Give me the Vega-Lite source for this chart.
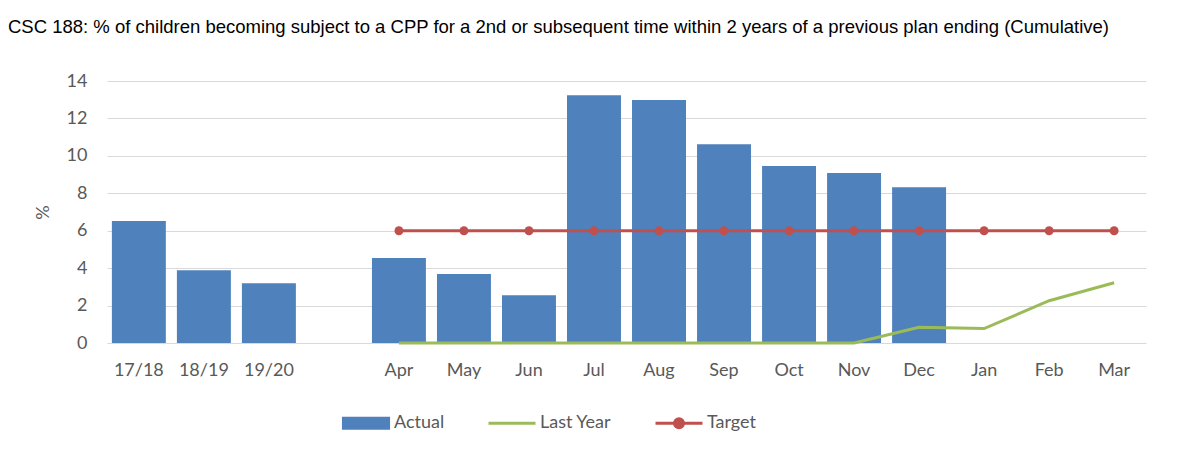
{
  "$schema": "https://vega.github.io/schema/vega-lite/v6.json",
  "autosize": {"type": "none"},
  "width": 1039,
  "height": 262,
  "padding": {"left": 107, "top": 81, "right": 43, "bottom": 115},
  "background": "white",
  "title": {
    "text": "CSC 188: % of children becoming subject to a CPP for a 2nd or subsequent time within 2 years of a previous plan ending (Cumulative)",
    "anchor": "start",
    "frame": "group",
    "dx": -99,
    "offset": 21,
    "baseline": "alphabetic",
    "font": "Liberation Sans",
    "fontSize": 18.5,
    "fontWeight": "normal",
    "color": "black"
  },
  "datasets": {
    "actual": [
      {"cat": "17/18", "series": "Actual", "value": 6.52},
      {"cat": "18/19", "series": "Actual", "value": 3.89},
      {"cat": "19/20", "series": "Actual", "value": 3.19},
      {"cat": "Apr", "series": "Actual", "value": 4.54},
      {"cat": "May", "series": "Actual", "value": 3.69},
      {"cat": "Jun", "series": "Actual", "value": 2.55},
      {"cat": "Jul", "series": "Actual", "value": 13.24},
      {"cat": "Aug", "series": "Actual", "value": 12.99},
      {"cat": "Sep", "series": "Actual", "value": 10.62},
      {"cat": "Oct", "series": "Actual", "value": 9.46},
      {"cat": "Nov", "series": "Actual", "value": 9.09},
      {"cat": "Dec", "series": "Actual", "value": 8.32}
    ],
    "lastyear": [
      {"cat": "Apr", "series": "Last Year", "value": 0},
      {"cat": "May", "series": "Last Year", "value": 0},
      {"cat": "Jun", "series": "Last Year", "value": 0},
      {"cat": "Jul", "series": "Last Year", "value": 0},
      {"cat": "Aug", "series": "Last Year", "value": 0},
      {"cat": "Sep", "series": "Last Year", "value": 0},
      {"cat": "Oct", "series": "Last Year", "value": 0},
      {"cat": "Nov", "series": "Last Year", "value": 0},
      {"cat": "Dec", "series": "Last Year", "value": 0.84},
      {"cat": "Jan", "series": "Last Year", "value": 0.77},
      {"cat": "Feb", "series": "Last Year", "value": 2.26},
      {"cat": "Mar", "series": "Last Year", "value": 3.22}
    ],
    "target": [
      {"cat": "Apr", "series": "Target", "value": 6},
      {"cat": "May", "series": "Target", "value": 6},
      {"cat": "Jun", "series": "Target", "value": 6},
      {"cat": "Jul", "series": "Target", "value": 6},
      {"cat": "Aug", "series": "Target", "value": 6},
      {"cat": "Sep", "series": "Target", "value": 6},
      {"cat": "Oct", "series": "Target", "value": 6},
      {"cat": "Nov", "series": "Target", "value": 6},
      {"cat": "Dec", "series": "Target", "value": 6},
      {"cat": "Jan", "series": "Target", "value": 6},
      {"cat": "Feb", "series": "Target", "value": 6},
      {"cat": "Mar", "series": "Target", "value": 6}
    ]
  },
  "encoding": {
    "x": {
      "field": "cat",
      "type": "nominal",
      "sort": null,
      "scale": {
        "domain": ["17/18", "18/19", "19/20", "gap", "Apr", "May", "Jun", "Jul", "Aug", "Sep", "Oct", "Nov", "Dec", "Jan", "Feb", "Mar"],
        "paddingInner": 0.17,
        "paddingOuter": 0.075
      },
      "axis": {
        "title": null,
        "labelExpr": "datum.value === 'gap' ? '' : datum.value",
        "labelAngle": 0,
        "domain": false,
        "ticks": false,
        "grid": false,
        "labelPadding": 18,
        "labelFont": "Lato",
        "labelFontSize": 18,
        "labelColor": "#595959"
      }
    },
    "y": {
      "field": "value",
      "type": "quantitative",
      "scale": {"domain": [0, 14], "nice": false},
      "axis": {
        "title": "%",
        "values": [0, 2, 4, 6, 8, 10, 12, 14],
        "domain": false,
        "ticks": false,
        "grid": true,
        "gridColor": "#D9D9D9",
        "gridWidth": 1,
        "labelPadding": 20,
        "labelFont": "Lato",
        "labelFontSize": 18,
        "labelColor": "#595959",
        "titleFont": "Lato",
        "titleFontSize": 18,
        "titleFontWeight": "normal",
        "titleColor": "#595959",
        "titlePadding": 14
      }
    }
  },
  "layer": [
    {
      "data": {"name": "actual"},
      "mark": {"type": "bar"},
      "encoding": {
        "color": {
          "field": "series",
          "type": "nominal",
          "scale": {"domain": ["Actual", "Last Year", "Target"], "range": ["#4F81BD", "#9BBB59", "#C0504D"]},
          "legend": {
            "title": null,
            "orient": "none",
            "direction": "horizontal",
            "legendX": 234,
            "legendY": 317,
            "padding": 0,
            "symbolSize": 2209,
            "labelOffset": 3,
            "columnPadding": 37,
            "labelFont": "Lato",
            "labelFontSize": 18,
            "labelColor": "#595959",
            "encode": {
              "symbols": {
                "update": {
                  "shape": {"signal": "datum.value === 'Actual' ? 'M-0.96,-0.4M-0.96,0.4M-0.96,-0.215H0.96V0.215H-0.96Z' : datum.value === 'Last Year' ? 'M-1,-0.4M-1,0.4M-1,0H1' : 'M-1,-0.4M-1,0.4M-1,0H1M0.19,0A0.19,0.19 0 1,1 -0.19,0A0.19,0.19 0 1,1 0.19,0Z'"},
                  "fill": {"signal": "datum.value === 'Last Year' ? 'transparent' : datum.value === 'Actual' ? '#4F81BD' : '#C0504D'"},
                  "stroke": {"signal": "datum.value === 'Actual' ? 'transparent' : datum.value === 'Last Year' ? '#9BBB59' : '#C0504D'"},
                  "strokeWidth": {"value": 3},
                  "size": {"value": 2209},
                  "opacity": {"value": 1},
                  "fillOpacity": {"value": 1},
                  "strokeOpacity": {"value": 1}
                }
              }
            }
          }
        }
      }
    },
    {
      "data": {"name": "lastyear"},
      "mark": {"type": "line", "strokeWidth": 3},
      "encoding": {
        "color": {"field": "series", "type": "nominal"}
      }
    },
    {
      "data": {"name": "target"},
      "mark": {"type": "line", "strokeWidth": 3, "point": {"filled": true, "size": 80}},
      "encoding": {
        "color": {"field": "series", "type": "nominal"}
      }
    }
  ],
  "config": {
    "view": {"stroke": null}
  }
}
